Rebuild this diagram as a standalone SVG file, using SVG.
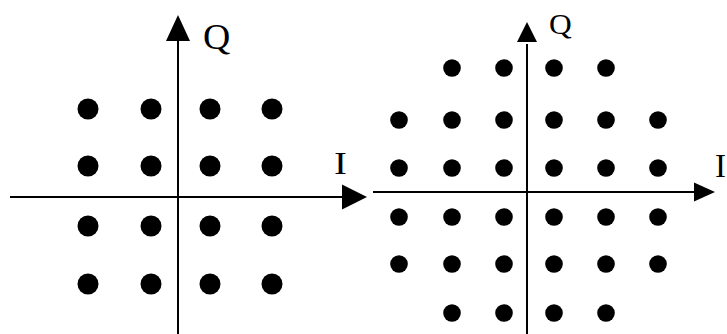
<svg xmlns="http://www.w3.org/2000/svg" width="727" height="334" viewBox="0 0 727 334">
<style>
.ax{stroke:#000;stroke-width:2;fill:none}
.ah{fill:#000;stroke:none}
.d1{fill:#000}
.lbl{font-family:"Liberation Serif","Times New Roman",serif;fill:#000;font-weight:normal}
.q1{font-size:36px}
.i1{font-size:31px}
.q2{font-size:30px}
.i2{font-size:33px}
</style>
<rect width="727" height="334" fill="#fff"/>
<g id="connectors">
  <line class="ax" x1="10" y1="197" x2="344" y2="197"/>
  <polygon class="ah" points="342,184.5 367,197 342,209.5"/>
  <line class="ax" x1="178" y1="334" x2="178" y2="39"/>
  <polygon class="ah" points="166,41 178,15 190,41"/>
  <line class="ax" x1="373" y1="192" x2="696" y2="192"/>
  <polygon class="ah" points="694,182.5 715,192 694,201.5"/>
  <line class="ax" x1="527" y1="334" x2="527" y2="44"/>
  <polygon class="ah" points="517,42 527,22 537,42"/>
</g>
<g id="qam16-labels">
  <text class="lbl q1" transform="translate(203,49) scale(1.05,1)">Q</text>
  <text class="lbl i1" transform="translate(334,174) scale(1.25,1)">I</text>
</g>
<g id="qam16-points">
  <circle class="d1" cx="88" cy="109" r="10.5"/><circle class="d1" cx="151" cy="109" r="10.5"/><circle class="d1" cx="210" cy="109" r="10.5"/><circle class="d1" cx="272" cy="109" r="10.5"/>
  <circle class="d1" cx="88" cy="166" r="10.5"/><circle class="d1" cx="151" cy="166" r="10.5"/><circle class="d1" cx="210" cy="166" r="10.5"/><circle class="d1" cx="272" cy="166" r="10.5"/>
  <circle class="d1" cx="88" cy="226" r="10.5"/><circle class="d1" cx="151" cy="226" r="10.5"/><circle class="d1" cx="210" cy="226" r="10.5"/><circle class="d1" cx="272" cy="226" r="10.5"/>
  <circle class="d1" cx="88" cy="284" r="10.5"/><circle class="d1" cx="151" cy="284" r="10.5"/><circle class="d1" cx="210" cy="284" r="10.5"/><circle class="d1" cx="272" cy="284" r="10.5"/>
</g>
<g id="qam32-labels">
  <text class="lbl q2" transform="translate(549,34) scale(1.05,1)">Q</text>
  <text class="lbl i2" transform="translate(715,177)">I</text>
</g>
<g id="qam32-points">
  <circle class="d1" cx="452" cy="68" r="8.8"/><circle class="d1" cx="504" cy="68" r="8.8"/><circle class="d1" cx="554" cy="68" r="8.8"/><circle class="d1" cx="606" cy="68" r="8.8"/>
  <circle class="d1" cx="399" cy="120" r="8.8"/><circle class="d1" cx="452" cy="120" r="8.8"/><circle class="d1" cx="504" cy="120" r="8.8"/><circle class="d1" cx="554" cy="120" r="8.8"/><circle class="d1" cx="606" cy="120" r="8.8"/><circle class="d1" cx="658" cy="120" r="8.8"/>
  <circle class="d1" cx="399" cy="168" r="8.8"/><circle class="d1" cx="452" cy="168" r="8.8"/><circle class="d1" cx="504" cy="168" r="8.8"/><circle class="d1" cx="554" cy="168" r="8.8"/><circle class="d1" cx="606" cy="168" r="8.8"/><circle class="d1" cx="658" cy="168" r="8.8"/>
  <circle class="d1" cx="399" cy="217" r="8.8"/><circle class="d1" cx="452" cy="217" r="8.8"/><circle class="d1" cx="504" cy="217" r="8.8"/><circle class="d1" cx="554" cy="217" r="8.8"/><circle class="d1" cx="606" cy="217" r="8.8"/><circle class="d1" cx="658" cy="217" r="8.8"/>
  <circle class="d1" cx="399" cy="264" r="8.8"/><circle class="d1" cx="452" cy="264" r="8.8"/><circle class="d1" cx="504" cy="264" r="8.8"/><circle class="d1" cx="554" cy="264" r="8.8"/><circle class="d1" cx="606" cy="264" r="8.8"/><circle class="d1" cx="658" cy="264" r="8.8"/>
  <circle class="d1" cx="452" cy="313" r="8.8"/><circle class="d1" cx="504" cy="313" r="8.8"/><circle class="d1" cx="554" cy="313" r="8.8"/><circle class="d1" cx="606" cy="313" r="8.8"/>
</g>
</svg>
